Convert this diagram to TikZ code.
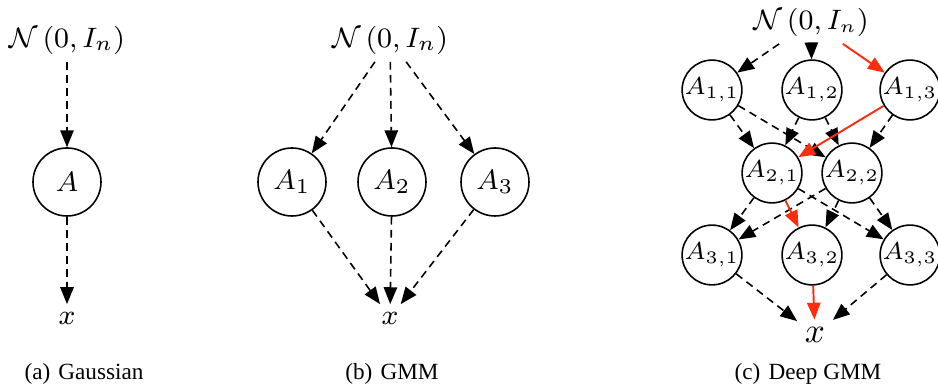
\documentclass[tikz,border=0pt]{standalone}
\usepackage{amsmath}
\usepackage[no-math]{fontspec}
\setmainfont{Liberation Serif}
\usetikzlibrary{arrows.meta}
\definecolor{pathred}{RGB}{250,45,15}

\begin{document}
\begin{tikzpicture}[
    latent/.style={draw, circle, minimum size=0.68cm, inner sep=0pt, font=\fontsize{8.4}{10}\selectfont},
    small latent/.style={latent, minimum size=0.54cm, font=\fontsize{7.2}{9}\selectfont},
    var/.style={inner sep=2pt, font=\fontsize{8.2}{10}\selectfont},
    edge/.style={-{Triangle[length=4.8pt,width=3.8pt]}, dash pattern=on 2.2pt off 1.5pt},
    hot/.style={-{Triangle[length=4.8pt,width=3.8pt]}, draw=pathred, fill=pathred, line width=0.55pt},
    caption/.style={font=\normalfont\fontsize{6.6}{8}\selectfont},
    line width=0.45pt
]
    \useasboundingbox (0,0) rectangle (9.38,-3.88);

    % Gaussian
    \node[var] (za) at (0.67,-0.40) {$\mathcal{N}\left(0, I_n\right)$};
    \node[latent] (a) at (0.67,-1.82) {$A$};
    \node[var] (xa) at (0.67,-3.18) {$x$};
    \draw[edge] (za) -- (a);
    \draw[edge] (a) -- (xa);
    \node[caption] at (0.84,-3.74) {(a)\hspace{0.35em}Gaussian};

    % GMM
    \node[var] (zb) at (3.90,-0.40) {$\mathcal{N}\left(0, I_n\right)$};
    \node[var] (xb) at (3.90,-3.18) {$x$};
    \foreach \i/\px in {1/2.92, 2/3.92, 3/4.95} {
        \node[latent] (b\i) at (\px,-1.82) {$A_{\i}$};
        \draw[edge] (zb) -- (b\i);
        \draw[edge] (b\i) -- (xb);
    }
    \node[caption] at (3.92,-3.74) {(b)\hspace{0.35em}GMM};

    % Deep GMM
    \node[var, font=\fontsize{7.6}{9}\selectfont] (zc) at (8.11,-0.22) {$\mathcal{N}\left(0, I_n\right)$};
    \node[var, font=\fontsize{9.6}{10}\selectfont] (xc) at (8.15,-3.35) {$x$};
    \foreach \j/\px in {1/7.12, 2/8.12, 3/9.10} {
        \node[small latent] (c1\j) at (\px,-0.90) {$A_{1,\j}$};
        \node[small latent] (c3\j) at (\px,-2.55) {$A_{3,\j}$};
    }
    \node[small latent] (c21) at (7.72,-1.73) {$A_{2,1}$};
    \node[small latent] (c22) at (8.52,-1.73) {$A_{2,2}$};
    \foreach \from/\to/\kind in {zc/c11/edge, zc/c12/edge,
        c11/c21/edge, c11/c22/edge, c12/c21/edge, c12/c22/edge, c13/c22/edge,
        c21/c31/edge, c21/c33/edge, c22/c31/edge, c22/c32/edge, c22/c33/edge,
        c31/xc/edge, c33/xc/edge,
        zc/c13/hot, c13/c21/hot, c21/c32/hot, c32/xc/hot}
        \draw[\kind] (\from) -- (\to);
    \node[caption] at (8.08,-3.74) {(c)\hspace{0.35em}Deep GMM};
\end{tikzpicture}
\end{document}
